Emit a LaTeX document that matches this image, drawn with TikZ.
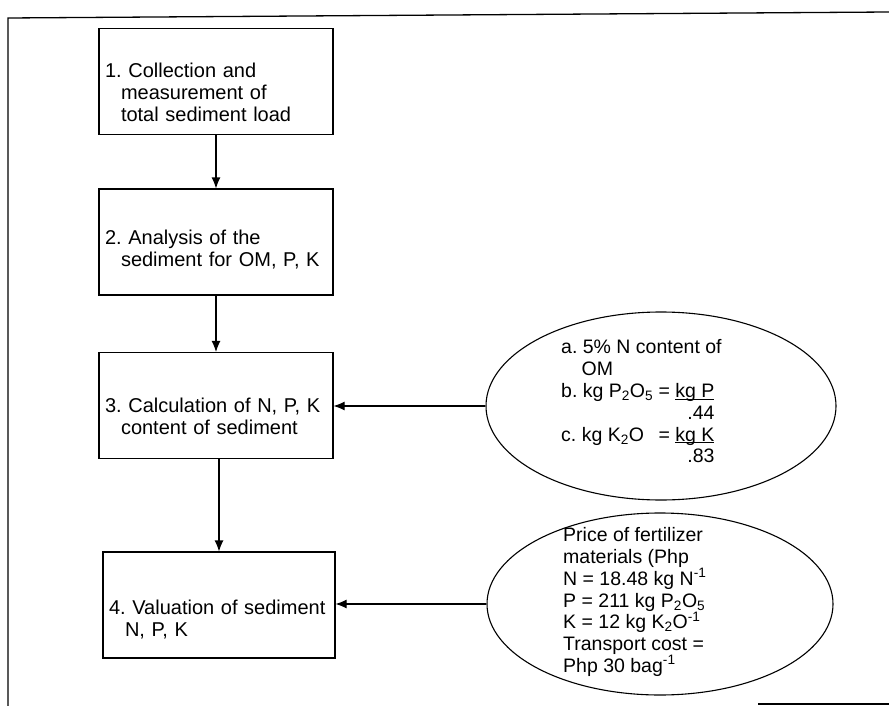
\documentclass[tikz,border=0pt]{standalone}
\usepackage{fontspec}
\setmainfont{Liberation Sans}
\frenchspacing
\usetikzlibrary{arrows.meta,shapes.geometric}
\newcommand\fracline[1]{\underline{\raisebox{0pt}[\height][0pt]{#1}}}
\tikzset{stage/.style={draw, line width=1.1pt, rectangle,
           minimum width=234pt, minimum height=106pt,
           text width=222pt, align=left, inner xsep=6pt,
           text height=36pt, font=\fontsize{20}{22}\selectfont},
         oval/.style={draw, line width=1.1pt, ellipse, inner sep=0pt},
         note/.style={inner sep=0pt, align=left, anchor=west,
           font=\fontsize{19.5}{21.8}\selectfont},
         flow/.style={line width=1.1pt, -{Latex[length=11pt,width=9pt]}},
         frame/.style={line width=1.3pt}}

\begin{document}
\begin{tikzpicture}[x=1pt, y=-1pt]
  \useasboundingbox (0,0) rectangle (889,706);
  \draw[frame] (8,706) -- (8,18) -- (889,12);
  \draw[frame] (758,704) -- (889,704);

  \node[stage] (collect) at (216,81.5) {1. Collection and\\
    \hspace*{.8em}measurement of\\ \hspace*{.8em}total sediment load};
  \node[stage, text height=30pt] (analyse) at (216,242) {2. Analysis of the\\
    \hspace*{.8em}sediment for OM, P, K};
  \node[stage] (calc) at (216,405.5) {3. Calculation of N, P, K\\
    \hspace*{.8em}content of sediment};
  \node[stage, minimum width=232pt, text width=220pt, text height=44pt]
    (value) at (219,605) {4. Valuation of sediment\\ \hspace*{.8em}N, P, K};

  \node[oval, minimum width=350pt, minimum height=188pt] (ratio) at (661,406) {};
  \node[note] (ratiotxt) at (561,404) {%
    \begin{tabular}{@{}l@{ }l@{ }l@{}}
      \multicolumn{3}{@{}l@{}}{a. 5\% N content of}\\
      \multicolumn{3}{@{}l@{}}{\hspace*{1.05em}OM}\\
      b. kg P\textsubscript{2}O\textsubscript{5} & = & \fracline{kg P}\\
      & & \phantom{kg P}\llap{.44}\\
      c. kg K\textsubscript{2}O & = & \fracline{kg K}\\
      & & \phantom{kg K}\llap{.83}
    \end{tabular}};

  \node[oval, minimum width=346pt, minimum height=182pt] (price) at (660,604) {};
  \node[note] (pricetxt) at (563,602) {Price of fertilizer\\
    materials (Php\\
    N = 18.48 kg N\textsuperscript{-1}\\
    P = 211 kg P\textsubscript{2}O\textsubscript{5}\\
    K = 12 kg K\textsubscript{2}O\textsuperscript{-1}\\
    Transport cost =\\
    Php 30 bag\textsuperscript{-1}};

  \draw[flow] (collect) -- (analyse);
  \draw[flow] (analyse) -- (calc);
  \draw[flow] (calc.south -| value) -- (value);
  \draw[flow] (ratio.west) -- (ratio.west -| calc.east);
  \draw[flow] (price.west) -- (price.west -| value.east);
\end{tikzpicture}
\end{document}
